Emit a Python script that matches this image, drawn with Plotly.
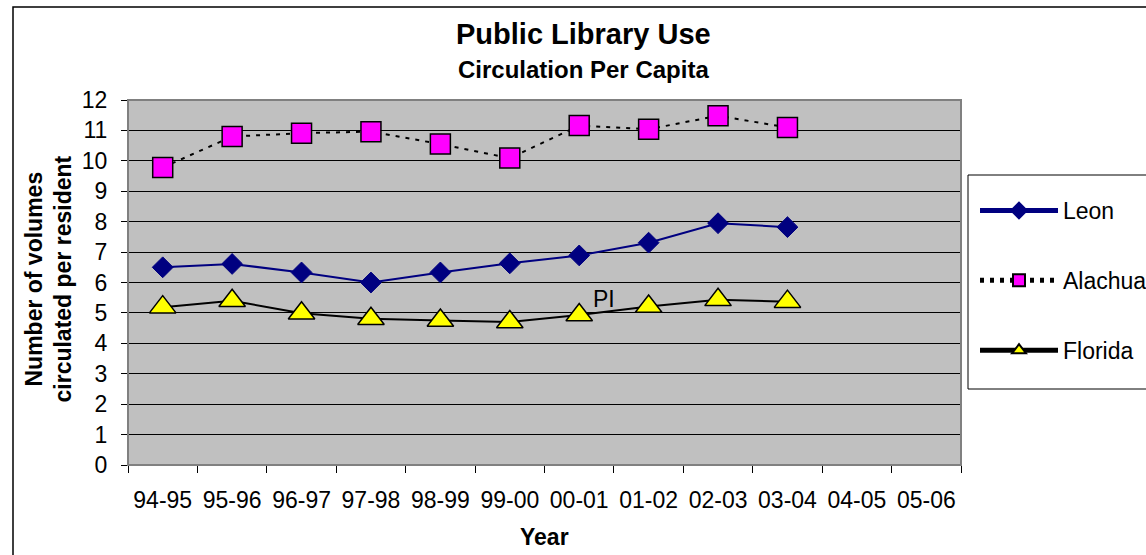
import plotly.graph_objects as go

years = ["94-95", "95-96", "96-97", "97-98", "98-99", "99-00",
         "00-01", "01-02", "02-03", "03-04", "04-05", "05-06"]
leon = [6.50, 6.61, 6.33, 6.00, 6.33, 6.63, 6.89, 7.31, 7.95, 7.82]
alachua = [9.78, 10.80, 10.91, 10.96, 10.55, 10.09, 11.16, 11.04, 11.48, 11.10]
florida = [5.19, 5.40, 4.99, 4.81, 4.75, 4.70, 4.93, 5.21, 5.43, 5.37]

FONT = "Arial, Liberation Sans, sans-serif"

fig = go.Figure()
fig.add_trace(go.Scatter(
    x=years[:len(leon)], y=leon, name="Leon", mode="lines+markers",
    legendgroup="a",
    line=dict(color="#000080", width=2),
    marker=dict(symbol="diamond", size=16, color="#000080",
                line=dict(color="#000080", width=1))))
fig.add_trace(go.Scatter(
    x=years[:len(alachua)], y=alachua, name="Alachua", mode="lines+markers",
    legendgroup="b",
    line=dict(color="black", width=2, dash="4px,6px"),
    marker=dict(symbol="square", size=20, color="#FF00FF",
                line=dict(color="black", width=1.5))))
fig.add_trace(go.Scatter(
    x=years[:len(florida)], y=florida, name="Florida", mode="lines+markers",
    legendgroup="c",
    line=dict(color="black", width=2),
    marker=dict(symbol="triangle-up", size=23, color="#FFFF00",
                line=dict(color="black", width=1.5))))

L, R, T, B = 128, 961, 100, 465
W, H = 1146, 555

def px_x(p):
    return (p - L) / (R - L)

def px_y(p):
    return (B - p) / (B - T)

shapes = [
    # outer chart border
    dict(type="rect", xref="paper", yref="paper",
         x0=px_x(13), x1=px_x(1200), y0=px_y(600), y1=px_y(7),
         line=dict(color="black", width=1.5), fillcolor="rgba(0,0,0,0)", layer="below"),
    # plot area border (gray)
    dict(type="rect", xref="paper", yref="paper", x0=0, x1=1, y0=0, y1=1,
         line=dict(color="#808080", width=2), fillcolor="rgba(0,0,0,0)", layer="above"),
    # legend box
    dict(type="rect", xref="paper", yref="paper",
         x0=px_x(968), x1=px_x(1200), y0=px_y(389), y1=px_y(175),
         line=dict(color="black", width=1), fillcolor="white", layer="above"),
]

annotations = [
    dict(text="<b>Public Library Use</b>", xref="paper", yref="paper",
         x=px_x(583.5), y=px_y(34), xanchor="center", yanchor="middle",
         showarrow=False, font=dict(family=FONT, size=29, color="black")),
    dict(text="<b>Circulation Per Capita</b>", xref="paper", yref="paper",
         x=px_x(583), y=px_y(69.5), xanchor="center", yanchor="middle",
         showarrow=False, font=dict(family=FONT, size=24, color="black")),
    dict(text="<b>Number of volumes<br>circulated per resident</b>", xref="paper", yref="paper",
         x=px_x(48.5), y=px_y(279), xanchor="center", yanchor="middle", textangle=-90,
         showarrow=False, font=dict(family=FONT, size=23, color="black")),
    dict(text="<b>Year</b>", xref="paper", yref="paper",
         x=px_x(544.5), y=px_y(537), xanchor="center", yanchor="middle",
         showarrow=False, font=dict(family=FONT, size=23, color="black")),
    dict(text="PI", xref="x", yref="y", x=6.35, y=5.46,
         xanchor="center", yanchor="middle", showarrow=False,
         font=dict(family=FONT, size=23, color="black")),
]

fig.update_layout(
    width=W, height=H,
    margin=dict(l=L, r=W - R, t=T, b=H - B, autoexpand=False),
    paper_bgcolor="white", plot_bgcolor="#C0C0C0",
    font=dict(family=FONT, size=23, color="black"),
    showlegend=True,
    legend=dict(x=px_x(975), y=px_y(189), xanchor="left", yanchor="top",
                bgcolor="rgba(0,0,0,0)", borderwidth=0,
                traceorder="grouped", tracegroupgap=37,
                itemsizing="constant", itemwidth=78,
                font=dict(family=FONT, size=23, color="black")),
    shapes=shapes,
    annotations=annotations,
)

fig.update_xaxes(
    type="category", categoryorder="array", categoryarray=years,
    range=[-0.5, len(years) - 0.5],
    tickmode="array", tickvals=years, ticktext=years, tickangle=0,
    tickson="boundaries", ticks="outside", ticklen=7, tickcolor="black", tickwidth=1,
    ticklabelstandoff=14,
    showgrid=False, showline=True, linecolor="black", linewidth=1,
    tickfont=dict(family=FONT, size=23, color="black"),
    zeroline=False,
)
fig.update_yaxes(
    range=[0, 12], dtick=1, tick0=0,
    ticks="outside", ticklen=6, tickcolor="black", tickwidth=1,
    ticklabelstandoff=9,
    showgrid=True, gridcolor="black", gridwidth=1,
    showline=True, linecolor="black", linewidth=1,
    zeroline=False,
    tickfont=dict(family=FONT, size=23, color="black"),
)

fig.write_html("out.html",
               config={"displayModeBar": False},
               post_script="document.body.style.margin='0px';document.body.style.overflow='hidden';")
